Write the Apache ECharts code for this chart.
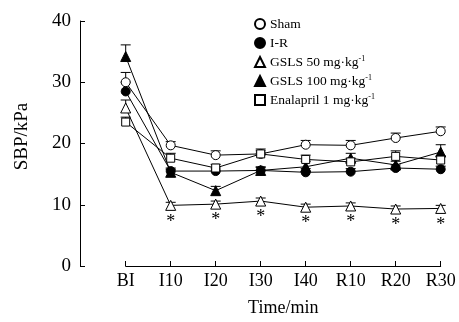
<!DOCTYPE html>
<html><head><meta charset="utf-8">
<script src="https://cdn.jsdelivr.net/npm/echarts@6/dist/echarts.min.js"></script>
<style>html,body{margin:0;padding:0;background:#fff}#c{width:459px;height:322px}</style>
</head><body><div id="c"></div>
<script>
var categories = ['BI','I10','I20','I30','I40','R10','R20','R30'];
var yTicks = [0,10,20,30,40];
var shamMean   = [30.0, 19.7, 18.1, 18.3, 19.8, 19.7, 20.9, 22.0];
var shamSD     = [1.6, 0.6, 0.7, 0.5, 0.7, 0.8, 0.8, 0.7];
var irMean     = [28.5, 15.5, 15.5, 15.6, 15.3, 15.4, 16.0, 15.8];
var irSD       = [1.5, 0.5, 0.5, 0.5, 0.6, 0.5, 0.5, 0.5];
var gsls50Mean = [25.8, 9.9, 10.1, 10.6, 9.6, 9.8, 9.3, 9.4];
var gsls50SD   = [1.3, 0.5, 0.5, 0.5, 0.5, 0.5, 0.5, 0.5];
var gsls100Mean= [34.2, 15.3, 12.3, 15.6, 16.2, 17.6, 16.5, 18.6];
var gsls100SD  = [1.9, 0.5, 0.7, 0.6, 0.9, 0.8, 0.6, 1.2];
var enaMean    = [23.5, 17.6, 16.0, 18.3, 17.4, 17.0, 17.9, 17.3];
var enaSD      = [0.8, 0.8, 0.6, 0.8, 0.7, 0.6, 0.9, 0.7];
var significance = ['', '*', '*', '*', '*', '*', '*', '*'];
var seriesNames = ['Sham','I-R','GSLS 50 mg·kg{sup|-1}','GSLS 100 mg·kg{sup|-1}','Enalapril 1 mg·kg{sup|-1}'];

var FONT = 'Liberation Serif';
var chart = echarts.init(document.getElementById('c'), null, {renderer:'canvas'});

var groups = [
  {name:seriesNames[0], mean:shamMean, sd:shamSD, symbol:'circle', size:9, fill:'#fff'},
  {name:seriesNames[1], mean:irMean, sd:irSD, symbol:'circle', size:9, fill:'#000'},
  {name:seriesNames[2], mean:gsls50Mean, sd:gsls50SD, symbol:'triangle', size:10, fill:'#fff'},
  {name:seriesNames[3], mean:gsls100Mean, sd:gsls100SD, symbol:'triangle', size:10, fill:'#000'},
  {name:seriesNames[4], mean:enaMean, sd:enaSD, symbol:'rect', size:8, fill:'#fff'}
];

var series = [];
groups.forEach(function(g){
  series.push({
    type:'custom', name:g.name+'_err', z:1, silent:true,
    data:g.mean.map(function(m,i){return [i, m, m+g.sd[i]];}),
    renderItem:function(params, api){
      var p0 = api.coord([api.value(0), api.value(1)]);
      var p1 = api.coord([api.value(0), api.value(2)]);
      var st = {stroke:'#000', lineWidth:1};
      return {type:'group', children:[
        {type:'line', shape:{x1:p0[0], y1:p0[1], x2:p1[0], y2:p1[1]}, style:st},
        {type:'line', shape:{x1:p1[0]-5, y1:p1[1], x2:p1[0]+5, y2:p1[1]}, style:st}
      ]};
    }
  });
});
groups.forEach(function(g, k){
  var s = {
    type:'line', name:g.name, z:3, clip:false,
    data:g.mean,
    symbol:g.symbol, symbolSize:g.size, showAllSymbol:true,
    lineStyle:{color:'#000', width:1},
    itemStyle:{color:g.fill, borderColor:'#000', borderWidth:1, opacity:1},
    emphasis:{disabled:true}
  };
  if (k === 2) {
    s.label = {show:true, position:'bottom', distance:2, color:'#000',
      fontFamily:FONT, fontSize:18,
      formatter:function(p){return significance[p.dataIndex];}};
  }
  series.push(s);
});

chart.setOption({
  animation:false,
  backgroundColor:'#fff',
  grid:{left:125.7, right:18.3, top:21, bottom:53, containLabel:false},
  legend:{
    orient:'vertical', left:249, top:12, itemWidth:10, itemHeight:10, itemGap:5,
    itemTextGap:7,
    selectedMode:false,
    data:groups.map(function(g){return {name:g.name, icon:g.symbol};}),
    textStyle:{fontFamily:FONT, fontSize:13.5, color:'#000', lineHeight:14,
      rich:{sup:{fontFamily:FONT, fontSize:8, color:'#000', lineHeight:14, padding:[0,0,6,0]}}}
  },
  xAxis:{
    type:'category', data:categories, boundaryGap:false,
    name:'Time/min', nameLocation:'middle', nameGap:33,
    nameTextStyle:{fontFamily:FONT, fontSize:18, fontWeight:'normal', color:'#000'},
    axisLine:{lineStyle:{color:'#000', width:1}},
    axisTick:{inside:true, length:5, alignWithLabel:true, lineStyle:{color:'#000'}},
    axisLabel:{fontFamily:FONT, fontSize:18, color:'#000', margin:6},
    splitLine:{show:false}
  },
  yAxis:{
    type:'value', min:yTicks[0], max:yTicks[yTicks.length-1], interval:10, offset:45.7,
    name:'SBP/kPa', nameLocation:'middle', nameGap:48,
    nameTextStyle:{fontFamily:FONT, fontSize:19, fontWeight:'normal', color:'#000', padding:[0,0,0,14]},
    axisLine:{show:true, lineStyle:{color:'#000', width:1}},
    axisTick:{show:true, inside:true, length:5, lineStyle:{color:'#000'}},
    axisLabel:{fontFamily:FONT, fontSize:19, color:'#000', margin:9},
    splitLine:{show:false}
  },
  series:series
});
</script></body></html>
